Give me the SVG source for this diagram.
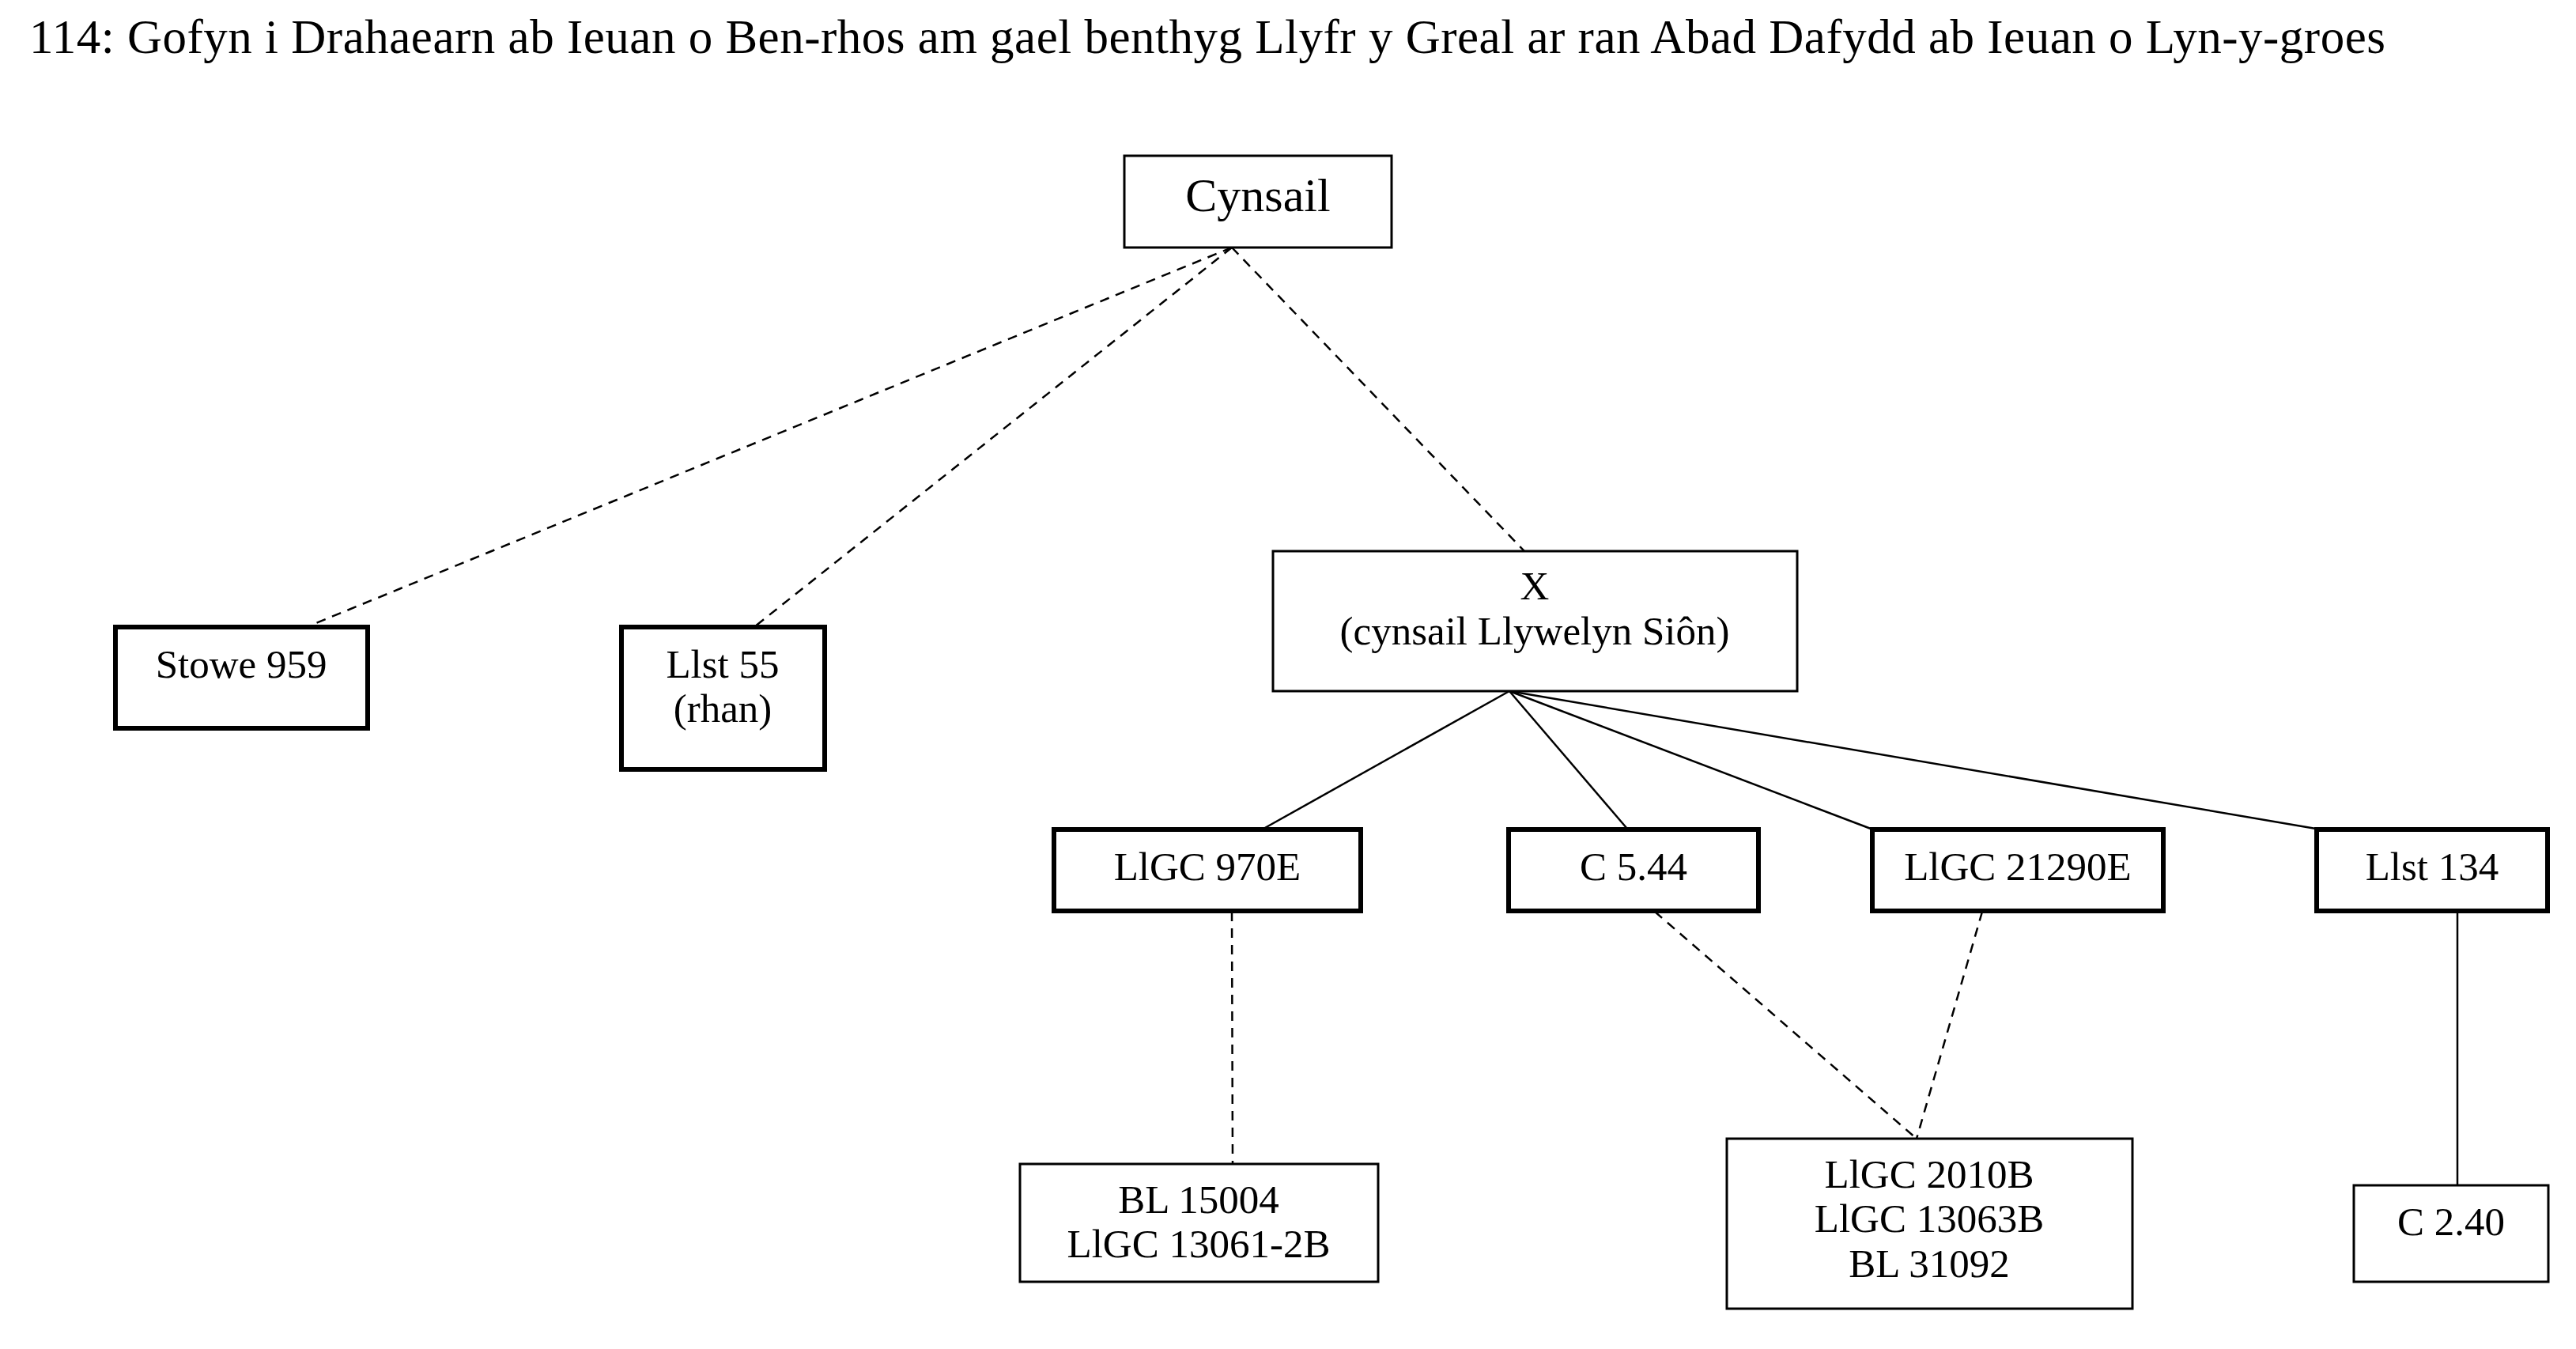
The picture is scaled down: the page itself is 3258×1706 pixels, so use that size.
<svg xmlns="http://www.w3.org/2000/svg" width="3258" height="1706" viewBox="0 0 3258 1706">
<style>
text{font-family:"Liberation Serif","Times New Roman",serif;fill:#000;}
.t{font-size:51px;text-anchor:middle;}
.box{fill:#fff;stroke:#000;stroke-width:3;}
.bold{fill:#fff;stroke:#000;stroke-width:6;}
.dash{stroke:#000;stroke-width:2.5;fill:none;stroke-dasharray:12 9;}
.solid{stroke:#000;stroke-width:2.5;fill:none;}
</style>
<rect width="3258" height="1706" fill="#fff"/>
<text x="37" y="67" style="font-size:61px" textLength="2980" lengthAdjust="spacing">114: Gofyn i Drahaearn ab Ieuan o Ben-rhos am gael benthyg Llyfr y Greal ar ran Abad Dafydd ab Ieuan o Lyn-y-groes</text>
<g id="connectors">
<line class="dash" x1="1558" y1="313" x2="390" y2="792"/>
<line class="dash" x1="1558" y1="313" x2="955" y2="792"/>
<line class="dash" x1="1558" y1="313" x2="1928" y2="697"/>
<line class="solid" x1="1909" y1="874" x2="1598" y2="1048"/>
<line class="solid" x1="1909" y1="874" x2="2058" y2="1048"/>
<line class="solid" x1="1909" y1="874" x2="2366" y2="1048"/>
<line class="solid" x1="1909" y1="874" x2="2929" y2="1048"/>
<line class="dash" x1="1558" y1="1153" x2="1559" y2="1471"/>
<line class="dash" x1="2093" y1="1153" x2="2424" y2="1440"/>
<line class="dash" x1="2507" y1="1153" x2="2424" y2="1440"/>
<line class="solid" x1="3108" y1="1153" x2="3108" y2="1499"/>
</g>
<g id="cynsail">
<rect class="box" x="1422" y="197" width="338" height="116"/>
<text x="1591" y="267" style="font-size:60px;text-anchor:middle">Cynsail</text>
</g>
<g id="stowe959">
<rect class="bold" x="146" y="793" width="319" height="128"/>
<text class="t" x="305" y="857">Stowe 959</text>
</g>
<g id="llst55">
<rect class="bold" x="786" y="793" width="257" height="180"/>
<text class="t" x="914" y="857">Llst 55</text>
<text class="t" x="914" y="913">(rhan)</text>
</g>
<g id="x">
<rect class="box" x="1610" y="697" width="663" height="177"/>
<text class="t" x="1941" y="758">X</text>
<text class="t" x="1941" y="815">(cynsail Llywelyn Siôn)</text>
</g>
<g id="llgc970e">
<rect class="bold" x="1333" y="1049" width="388" height="103"/>
<text class="t" x="1527" y="1113">LlGC 970E</text>
</g>
<g id="c544">
<rect class="bold" x="1908" y="1049" width="316" height="103"/>
<text class="t" x="2066" y="1113">C 5.44</text>
</g>
<g id="llgc21290e">
<rect class="bold" x="2368" y="1049" width="368" height="103"/>
<text class="t" x="2552" y="1113">LlGC 21290E</text>
</g>
<g id="llst134">
<rect class="bold" x="2930" y="1049" width="292" height="103"/>
<text class="t" x="3076" y="1113">Llst 134</text>
</g>
<g id="bl15004">
<rect class="box" x="1290" y="1472" width="453" height="149"/>
<text class="t" x="1516" y="1534">BL 15004</text>
<text class="t" x="1516" y="1590">LlGC 13061-2B</text>
</g>
<g id="llgc2010b">
<rect class="box" x="2184" y="1440" width="513" height="215"/>
<text class="t" x="2440" y="1502">LlGC 2010B</text>
<text class="t" x="2440" y="1558">LlGC 13063B</text>
<text class="t" x="2440" y="1615">BL 31092</text>
</g>
<g id="c240">
<rect class="box" x="2977" y="1499" width="246" height="122"/>
<text class="t" x="3100" y="1562">C 2.40</text>
</g>
</svg>
